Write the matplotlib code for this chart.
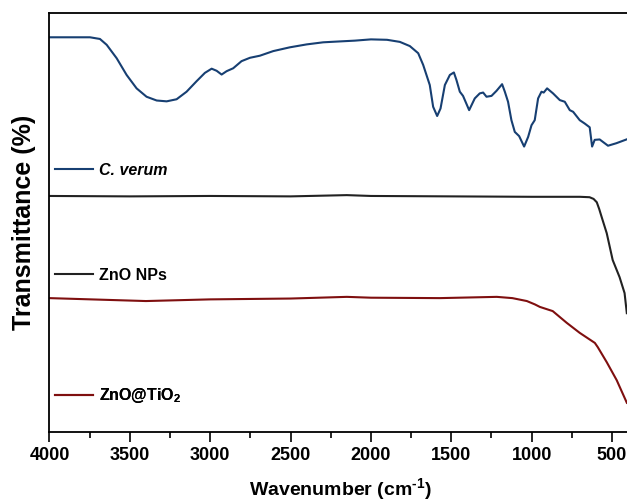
import numpy as np
import matplotlib
matplotlib.use('Agg')
import matplotlib.pyplot as plt
from matplotlib.ticker import MultipleLocator

plt.rcParams['font.family'] = ['Liberation Sans', 'DejaVu Sans']
plt.rcParams['font.weight'] = 'bold'
plt.rcParams['mathtext.fontset'] = 'custom'
plt.rcParams['mathtext.rm'] = 'Liberation Sans:bold'
plt.rcParams['mathtext.it'] = 'Liberation Sans:bold:italic'

### spectra (offset transmittance, a.u.)
wn_cv = [4000, 3748, 3686, 3644, 3582, 3520, 3458, 3396, 3333, 3271, 3209, 3147,
         3085, 3033, 2991, 2960, 2929, 2898, 2857, 2805, 2753, 2691, 2608, 2505,
         2400, 2297, 2200, 2100, 2000, 1900, 1820, 1758, 1706, 1675, 1634, 1613,
         1588, 1567, 1540, 1509, 1484, 1468, 1447, 1427, 1389, 1354, 1323, 1302,
         1281, 1250, 1219, 1184, 1167, 1147, 1126, 1105, 1078, 1047, 1022, 1001,
         981, 960, 939, 925, 904, 867, 825, 794, 763, 742, 701, 670, 639, 624,
         608, 577, 525, 473, 410]
t_cv = [94.2, 94.2, 93.8, 92.4, 89.2, 85.2, 82.0, 80.0, 79.1, 78.9, 79.4, 81.2,
        83.7, 85.7, 86.7, 86.2, 85.3, 86.1, 86.8, 88.5, 89.3, 89.8, 90.9, 91.8,
        92.5, 93.0, 93.2, 93.4, 93.7, 93.6, 93.1, 92.1, 90.4, 87.6, 82.8, 77.6,
        75.4, 77.2, 82.8, 85.2, 85.8, 84.0, 81.2, 80.2, 76.8, 79.6, 80.8, 81.0,
        80.0, 80.2, 81.4, 83.0, 81.2, 78.8, 74.4, 71.6, 70.6, 68.1, 70.4, 73.2,
        74.4, 79.6, 81.2, 81.0, 82.0, 80.8, 79.2, 78.8, 76.8, 76.4, 74.4, 73.6,
        72.7, 68.1, 69.7, 69.8, 68.3, 68.9, 69.8]

wn_zno = [4000, 3500, 3000, 2500, 2150, 2000, 1500, 1000, 700, 640, 615, 595,
          580, 564, 533, 496, 453, 422, 408]
t_zno = [56.3, 56.2, 56.3, 56.2, 56.5, 56.3, 56.2, 56.1, 56.1, 56.0, 55.6, 54.8,
         53.2, 51.2, 47.4, 41.0, 36.9, 33.1, 28.3]

wn_zt = [4000, 3400, 3000, 2500, 2150, 2000, 1572, 1217, 1120, 1030, 980, 949,
         869, 782, 701, 607, 589, 533, 471, 408]
t_zt = [31.9, 31.2, 31.6, 31.8, 32.2, 32.0, 31.9, 32.2, 31.9, 31.2, 30.4, 29.8,
        28.8, 26.0, 23.6, 21.2, 20.2, 16.6, 12.3, 6.9]

labels = ['C. verum', 'ZnO NPs', r'ZnO@TiO$_2$']
colors = ['#173f72', '#222222', '#7f0f0f']

fig = plt.figure(figsize=(6.27, 5.04), dpi=100)
ax = fig.add_axes([0.0789, 0.1435, 0.928, 0.8307])

lines = []
for wn, t, c in zip([wn_cv, wn_zno, wn_zt], [t_cv, t_zno, t_zt], colors):
    l, = ax.plot(wn, t, color=c, linewidth=1.5, solid_joinstyle='round')
    lines.append(l)

ax.set_xlim(4000, 380)
ax.set_ylim(0, 100)
ax.xaxis.set_major_locator(MultipleLocator(500))
ax.xaxis.set_minor_locator(MultipleLocator(250))
ax.set_yticks([])
ax.tick_params(axis='x', which='major', direction='out', length=7, width=1.2,
               labelsize=13, pad=4)
ax.tick_params(axis='x', which='minor', direction='out', length=4, width=1.2)
for s in ax.spines.values():
    s.set_linewidth(1.3)

ax.set_xlabel(r'Wavenumber (cm$^{\text{-1}}$)', fontsize=14, fontweight='bold', labelpad=9)
ax.set_ylabel('Transmittance (%)', fontsize=18, fontweight='bold', labelpad=10)

## one small legend per curve, placed under each spectrum
legy = [0.625, 0.374, 0.0853]
for i, (l, lab, yy) in enumerate(zip(lines, labels, legy)):
    leg = ax.legend([l], [lab], loc='center left', bbox_to_anchor=(0.0095, yy),
                    frameon=False, fontsize=11.5, handlelength=2.4,
                    handletextpad=0.35, borderpad=0, borderaxespad=0)
    if i == 0:
        leg.get_texts()[0].set_fontstyle('italic')
    ax.add_artist(leg)

fig.savefig('out.png', dpi=100)
